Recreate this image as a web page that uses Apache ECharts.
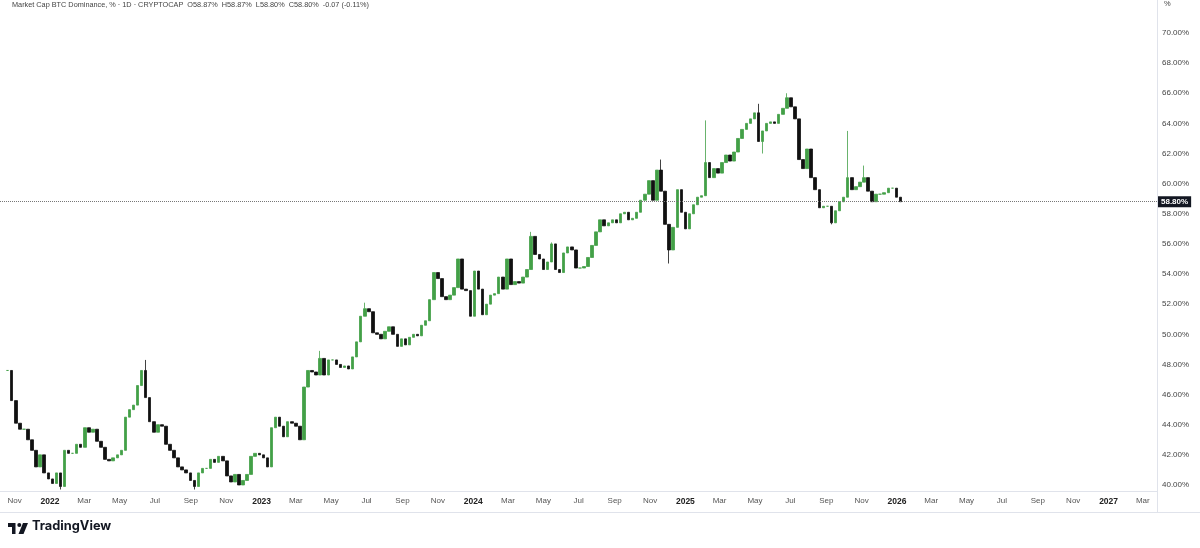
<!DOCTYPE html>
<html><head><meta charset="utf-8">
<script src="https://cdn.jsdelivr.net/npm/echarts@6/dist/echarts.min.js"></script>
<style>html,body{margin:0;padding:0;background:#fff}#c{width:1200px;height:548px}</style>
</head><body><div id="c"></div>
<script>
// ---- data ----
const titleText = 'Market Cap BTC Dominance, % · 1D · CRYPTOCAP';
const ohlcText = 'O58.87%  H58.87%  L58.80%  C58.80%  -0.07 (-0.11%)';
const firstWeek = '2021-10-20';           // weekly candles start here
const closes = [
  47.6,45.6,44.1,43.7,43.7,43.0,42.3,41.2,42.0,40.8,
  40.4,40.1,40.8,39.9,42.3,42.1,42.1,42.7,42.5,43.8,
  43.5,43.7,42.9,42.5,41.7,41.6,41.8,42.0,42.3,44.5,
  45.0,45.3,46.6,47.6,45.8,44.2,43.5,44.0,43.9,42.7,
  42.3,41.8,41.2,41.0,40.8,40.3,39.9,40.8,41.1,41.1,
  41.7,41.5,41.9,41.6,40.6,40.2,40.7,40.0,40.3,40.7,
  41.9,42.1,42.0,41.8,41.2,43.8,44.5,43.9,43.2,44.2,
  44.1,43.9,43.0,46.5,47.6,47.5,47.3,48.4,47.3,48.3,
  48.3,48.0,47.8,47.9,47.7,48.5,49.5,51.2,51.7,51.5,
  50.1,50.0,49.7,50.2,50.5,50.0,49.2,49.7,49.3,49.8,
  50.0,49.9,50.6,50.9,52.3,54.1,53.7,52.5,52.3,52.6,
  53.1,55.0,53.0,52.9,51.2,54.2,53.0,51.3,52.0,52.6,
  52.7,53.8,53.0,55.0,53.3,53.5,53.4,53.8,54.3,56.5,
  55.3,55.0,54.3,54.8,56.0,54.3,54.1,55.4,55.8,55.6,
  54.4,54.4,54.5,55.1,55.9,56.8,57.6,57.2,57.4,57.6,
  57.4,58.0,58.1,57.6,57.7,58.1,58.9,59.3,60.2,58.9,
  60.9,59.5,57.3,55.6,57.1,59.6,58.1,57.0,58.0,58.6,
  59.1,59.2,61.4,60.4,61.0,60.7,61.4,61.9,61.5,62.1,
  63.0,63.6,64.0,64.3,64.7,62.8,63.5,64.0,64.1,64.0,
  64.6,65.0,65.7,65.1,64.3,61.6,61.0,62.3,60.4,59.6,
  58.4,58.5,58.5,57.4,58.2,58.8,59.1,60.4,59.6,59.8,
  60.1,60.4,59.5,58.8,59.3,59.3,59.4,59.7,59.7,59.1,
  58.8
];
// [week index, wick value]
const wickHighs = [[34,48.3],[77,48.9],[88,52.1],[129,56.8],[134,56.1],[161,61.6],[172,64.2],[185,65.3],[192,66.0],[207,63.5],[211,61.2]];
const wickLows = [[13,39.7],[46,39.7],[163,54.7],[186,62.0],[203,57.3]];
const lastPrice = 58.80;
const yTicks = [40,42,44,46,48,50,52,54,56,58,60,62,64,66,68,70];
const xTickDates = ['2021-11-01','2022-01-01','2022-03-01','2022-05-01','2022-07-01','2022-09-01','2022-11-01',
  '2023-01-01','2023-03-01','2023-05-01','2023-07-01','2023-09-01','2023-11-01',
  '2024-01-01','2024-03-01','2024-05-01','2024-07-01','2024-09-01','2024-11-01',
  '2025-01-01','2025-03-01','2025-05-01','2025-07-01','2025-09-01','2025-11-01',
  '2026-01-01','2026-03-01','2026-05-01','2026-07-01','2026-09-01','2026-11-01',
  '2027-01-01','2027-03-01'];
const monthNames = ['Jan','Feb','Mar','Apr','May','Jun','Jul','Aug','Sep','Oct','Nov','Dec'];

// ---- build ----
const DAY = 86400000;
const t0 = Date.parse(firstWeek + 'T00:00:00Z');
const hiMap = new Map(wickHighs), loMap = new Map(wickLows);
const candles = closes.map((c, i) => {
  const o = i ? closes[i - 1] : c;
  let lo = Math.min(o, c), hi = Math.max(o, c);
  if (hiMap.has(i)) hi = Math.max(hi, hiMap.get(i));
  if (loMap.has(i)) lo = Math.min(lo, loMap.get(i));
  return [t0 + 7 * i * DAY, o, c, lo, hi];
});
const X0 = Date.parse('2022-01-01T00:00:00Z');
const xMin = X0 - 86.25 * DAY, xMax = X0 + 1909.5 * DAY;

const chart = echarts.init(document.getElementById('c'), null, {renderer: 'canvas'});
chart.setOption({
  animation: false,
  backgroundColor: '#ffffff',
  grid: {left: 0, right: 43, top: 0, bottom: 57},
  xAxis: {
    type: 'value', min: xMin, max: xMax,
    splitLine: {show: false},
    axisLine: {show: true, lineStyle: {color: '#e0e3eb'}},
    axisTick: {show: false},
    axisLabel: {
      customValues: xTickDates.map(d => Date.parse(d + 'T00:00:00Z')),
      fontSize: 8, color: '#555', margin: 6,
      fontFamily: 'Liberation Sans',
      formatter: v => { const d = new Date(v); const m = d.getUTCMonth(); return m === 0 ? '{y|' + d.getUTCFullYear() + '}' : monthNames[m]; },
      rich: {y: {fontSize: 8.5, fontWeight: 'bold', color: '#222', fontFamily: 'Liberation Sans'}}
    }
  },
  yAxis: {
    type: 'value', position: 'right', min: 39.6, max: 72.19, scale: true,
    splitLine: {show: false},
    axisLine: {show: true, lineStyle: {color: '#e0e3eb'}},
    axisTick: {show: false},
    axisLabel: {
      customValues: yTicks, fontSize: 8, color: '#444', margin: 5,
      fontFamily: 'Liberation Sans',
      formatter: v => v.toFixed(2) + '%'
    }
  },
  series: [{
    type: 'candlestick',
    data: candles,
    barWidth: 3,
    itemStyle: {color: '#43a047', color0: '#111111', borderColor: '#43a047', borderColor0: '#111111', borderWidth: 0.8},
    markLine: {
      silent: true, symbol: ['none', 'none'],
      data: [{yAxis: lastPrice}],
      lineStyle: {type: 'dotted', color: '#777', width: 1},
      label: {show: true, position: 'end', distance: 1, formatter: lastPrice.toFixed(2) + '%',
        backgroundColor: '#131722', color: '#fff', fontSize: 8, fontWeight: 'bold', padding: [2, 3, 1, 3],
        fontFamily: 'Liberation Sans'}
    }
  }],
  graphic: [
    {type: 'text', left: 12, top: 1, style: {text: titleText + '  ' + ohlcText, fontSize: 7.3, fill: '#444', fontFamily: 'Liberation Sans'}},
    {type: 'text', left: 1164, top: 0, style: {text: '%', fontSize: 7.5, fill: '#444', fontFamily: 'Liberation Sans'}},
    {type: 'line', shape: {x1: 1157.5, y1: 491, x2: 1157.5, y2: 512}, style: {stroke: '#e0e3eb', lineWidth: 1}},
    {type: 'line', shape: {x1: 0, y1: 512.5, x2: 1200, y2: 512.5}, style: {stroke: '#e0e3eb', lineWidth: 1}},
    {type: 'polygon', shape: {points: [[8,523],[15.5,523],[15.5,534],[12,534],[12,527],[8,527]]}, style: {fill: '#131722'}},
    {type: 'circle', shape: {cx: 19.3, cy: 525, r: 2}, style: {fill: '#131722'}},
    {type: 'polygon', shape: {points: [[23,523],[28,523],[23.5,534],[18.5,534]]}, style: {fill: '#131722'}},
    {type: 'text', left: 32, top: 520, style: {text: 'TradingView', fontSize: 12.8, fontWeight: 'bold', fill: '#131722', fontFamily: 'Inter'}}
  ]
});
</script></body></html>
